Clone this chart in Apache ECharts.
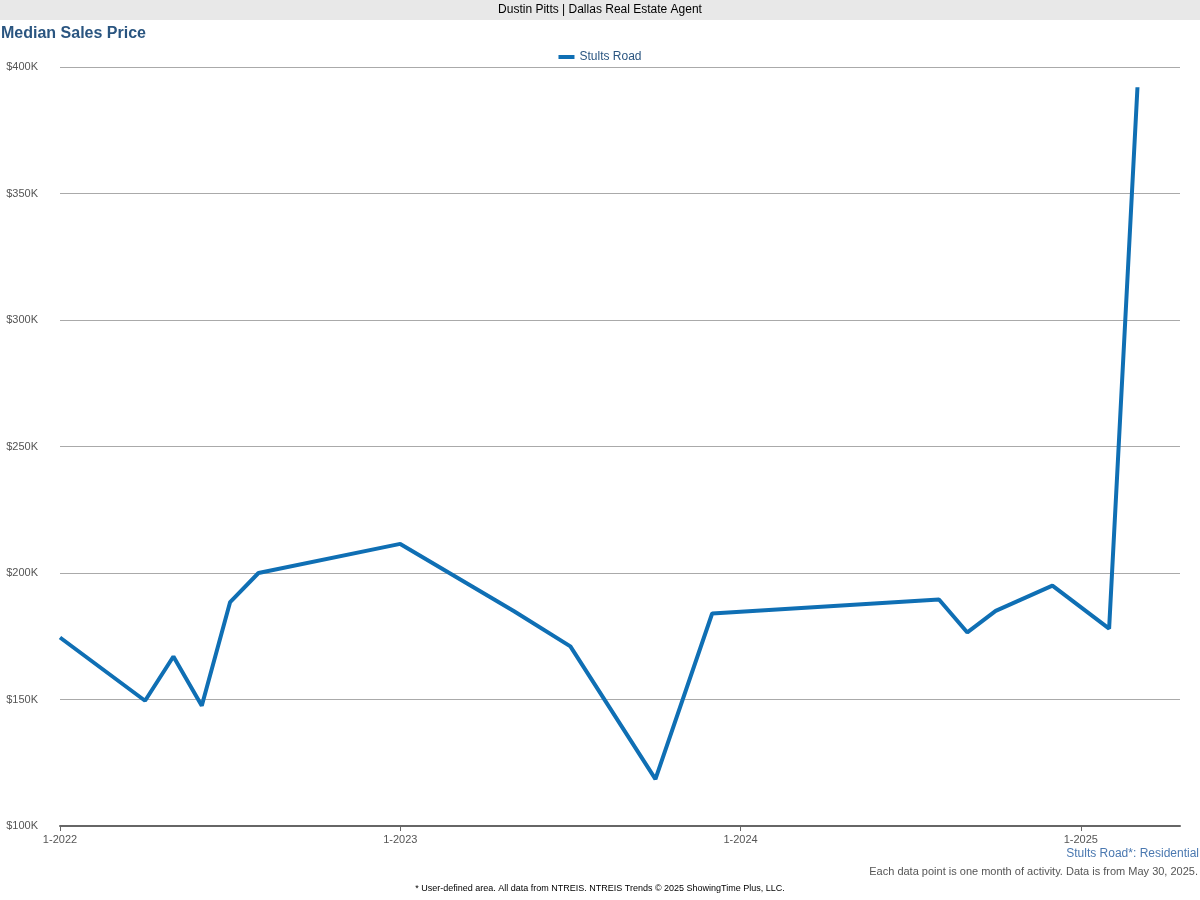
<!DOCTYPE html>
<html><head><meta charset="utf-8">
<script src="https://cdn.jsdelivr.net/npm/echarts@6/dist/echarts.min.js"></script>
<style>html,body{margin:0;padding:0;background:#fff}#c{width:1200px;height:900px}</style>
</head><body><div id="c"></div>
<script>
// month index from Jan 2022 (0)
const months = [0, 3, 4, 5, 6, 7, 12, 16, 18, 21, 23, 31, 32, 33, 35, 37, 38];
const prices = [174500, 149500, 167000, 147500, 188500, 200000, 211500, 185000, 171000, 118500, 184000, 189500, 176500, 185000, 195000, 178000, 392000];
const xTickLabels = {0: '1-2022', 12: '1-2023', 24: '1-2024', 36: '1-2025'};
const seriesName = 'Stults Road';

const chart = echarts.init(document.getElementById('c'));
chart.setOption({
  animation: false,
  graphic: [
    {type: 'rect', left: 0, top: 0, shape: {width: 1200, height: 20}, style: {fill: '#e8e8e8'}},
    {type: 'text', left: 'center', top: 4, style: {text: 'Dustin Pitts | Dallas Real Estate Agent', font: '12px Arial, "Liberation Sans"', fill: '#000'}},
    {type: 'text', left: 1, top: 26, style: {text: 'Median Sales Price', font: 'bold 16px Arial, "Liberation Sans"', fill: '#2a5580'}},
    {type: 'text', right: 1, top: 848, style: {text: 'Stults Road*: Residential', font: '12px Arial, "Liberation Sans"', fill: '#4a78b0'}},
    {type: 'text', right: 2, top: 866, style: {text: 'Each data point is one month of activity. Data is from May 30, 2025.', font: '11px Arial, "Liberation Sans"', fill: '#555'}},
    {type: 'text', left: 'center', top: 884, style: {text: '* User-defined area. All data from NTREIS. NTREIS Trends © 2025 ShowingTime Plus, LLC.', font: '9px Arial, "Liberation Sans"', fill: '#000'}}
  ],
  legend: {top: 46, left: 'center', itemWidth: 16, itemHeight: 4, icon: 'rect', itemGap: 5,
    textStyle: {color: '#2a5580', fontSize: 12, fontFamily: 'Arial, "Liberation Sans"'}},
  grid: {left: 60, right: 20, top: 67, bottom: 74},
  xAxis: {type: 'value', min: 0, max: 39.5, interval: 12,
    axisLine: {show: true, onZero: false, lineStyle: {color: '#666', width: 2}},
    axisTick: {show: true, lineStyle: {color: '#666'}},
    splitLine: {show: false},
    axisLabel: {color: '#555', fontSize: 11, fontFamily: 'Arial, "Liberation Sans"', showMaxLabel: false,
      formatter: v => xTickLabels[v] || ''}},
  yAxis: {type: 'value', min: 100000, max: 400000, interval: 50000,
    axisLine: {show: false}, axisTick: {show: false},
    splitLine: {lineStyle: {color: '#aaa'}},
    axisLabel: {color: '#555', fontSize: 11, fontFamily: 'Arial, "Liberation Sans"', margin: 22,
      formatter: v => '$' + (v / 1000) + 'K'}},
  series: [{name: seriesName, type: 'line', data: months.map((m, i) => [m, prices[i]]),
    showSymbol: false, lineStyle: {color: '#0f6fb4', width: 4}, itemStyle: {color: '#0f6fb4'}}]
});
</script></body></html>
